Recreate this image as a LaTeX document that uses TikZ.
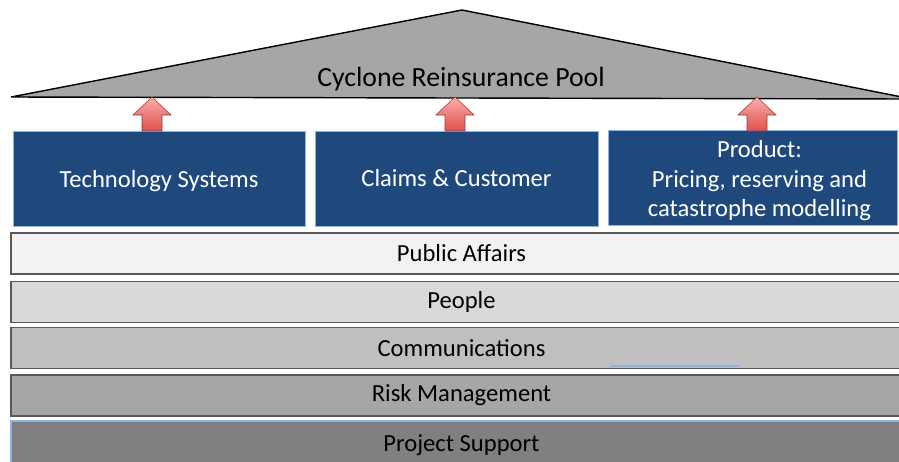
\documentclass[tikz,border=0pt]{standalone}
\usepackage{fontspec}
\setmainfont{Carlito}
\usepackage{xcolor}
\definecolor{roofgray}{HTML}{A6A6A6}
\definecolor{pillarblue}{HTML}{1F497D}
\definecolor{pillarline}{HTML}{8DB3E2}
\definecolor{barline}{HTML}{595959}
\definecolor{arrowlight}{HTML}{F7B0AC}
\definecolor{arrowdark}{HTML}{E0504C}

\begin{document}
\begin{tikzpicture}[x=0.02cm,y=-0.02cm,
    pillar/.style={draw=pillarline,line width=0.5pt,fill=pillarblue,text=white,
      minimum height=1.9cm,inner sep=0pt,align=center,font=\fontsize{14}{16.8}\selectfont},
    layer/.style={draw=barline,line width=0.7pt,minimum width=18.02cm,
      minimum height=0.82cm,inner sep=0pt,font=\fontsize{14}{16.8}\selectfont}]
        \clip (0,0) rectangle (899,461);
        \fill[white] (0,0) rectangle (899,461);
        % roof
        \draw[fill=roofgray,line width=0.8pt] (11,97) -- (462,10) -- (912,99) -- cycle;
        \node (pool) at (461,79) {\fontsize{15.8}{19}\selectfont Cyclone Reinsurance Pool};
        % pillars
        \node[pillar,minimum width=5.84cm] (tech) at (159,178.5) {};
        \node[text=white,font=\fontsize{14}{16.8}\selectfont] (techtext) at (159,181) {Technology Systems};
        \node[pillar,minimum width=5.66cm] (claims) at (456.5,178.5) {Claims \& Customer};
        \node[pillar,minimum width=5.78cm] (product) at (752.5,177.5) {};
        \node[text=white,align=center,font=\fontsize{14}{16.8}\selectfont] (producttext) at (759.5,181)
          {Product:\\Pricing, reserving and\\catastrophe modelling};
        % arrows up into the roof
        \foreach \cx in {152,455,757}
          \draw[draw=arrowdark!70!black,line width=0.3pt,top color=arrowlight,bottom color=arrowdark]
            (\cx,97) -- (\cx+19,115) -- (\cx+10,115) -- (\cx+10,131)
            -- (\cx-10,131) -- (\cx-10,115) -- (\cx-19,115) -- cycle;
        % layers
        \node[layer,fill=black!5] (affairs) at (461.5,253.5) {Public Affairs};
        \node[layer,fill=black!15] (people) at (461.5,302) {People};
        \node[layer,fill=black!25] (comms) at (461.5,348) {Communications};
        \node[layer,fill=black!35] (risk) at (461.5,395.5) {Risk Management};
        \node[layer,fill=black!50,draw=pillarline,minimum height=0.98cm] (support) at (461.5,445.5) {Project Support};
        \draw[pillarline,line width=0.8pt] (611,366) -- (740,366);
    \end{tikzpicture}
\end{document}
